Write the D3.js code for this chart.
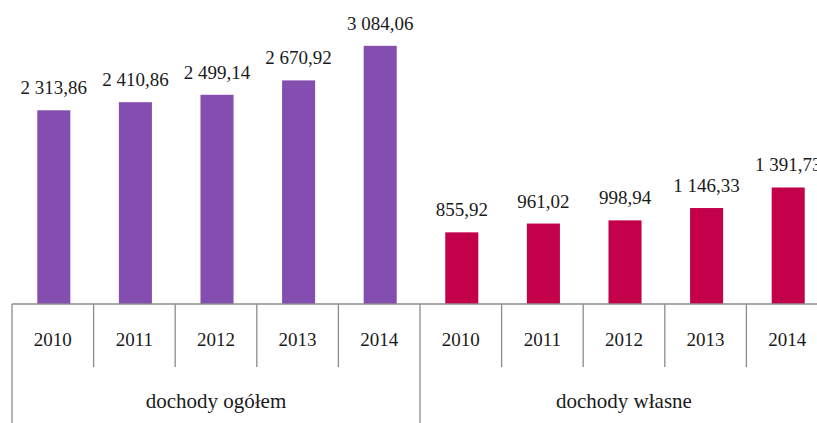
<!DOCTYPE html>
<html><head><meta charset="utf-8">
<script src="https://cdn.jsdelivr.net/npm/d3@7"></script>
<style>
html,body{margin:0;padding:0;background:#fff;overflow:hidden}
svg text{font-family:"Liberation Serif","DejaVu Serif",serif;font-size:19px;fill:#1a1a1a}
svg text.grp{font-size:21px}
</style>
</head><body>
<svg id="c" width="817" height="423"></svg>
<script>
const years = ["2010","2011","2012","2013","2014"];
const groups = ["dochody ogółem","dochody własne"];
const ogolem = [2313.86, 2410.86, 2499.14, 2670.92, 3084.06];
const wlasne = [855.92, 961.02, 998.94, 1146.33, 1391.73];
const colors = ["#834EB0", "#C3004A"];

const data = [];
groups.forEach((g, gi) => {
  const vals = gi === 0 ? ogolem : wlasne;
  years.forEach((y, yi) => data.push({key: gi + "-" + y, group: g, gi, year: y, value: vals[yi]}));
});

const svg = d3.select("#c");
const axisY = 304;
const x = d3.scaleBand().domain(data.map(d => d.key)).range([12, 828]).padding(0);
const y = d3.scaleLinear().domain([0, 3500]).range([axisY, 11]);
const bw = x.bandwidth() * 0.405;
const fmt = v => d3.format(",.2f")(v).replace(/,/g, " ").replace(".", ",");

svg.selectAll("rect.bar").data(data).join("rect")
  .attr("class", "bar")
  .attr("x", d => x(d.key) + x.bandwidth() / 2 - bw / 2 + 1)
  .attr("width", bw)
  .attr("y", d => y(d.value))
  .attr("height", d => axisY - y(d.value))
  .attr("fill", d => colors[d.gi]);

svg.selectAll("text.val").data(data).join("text")
  .attr("class", "val")
  .attr("x", d => x(d.key) + x.bandwidth() / 2 + 1)
  .attr("y", d => y(d.value) - 16)
  .attr("text-anchor", "middle")
  .text(d => fmt(d.value));

const gAxis = svg.append("g").attr("stroke", "#8c8c8c").attr("stroke-width", 1.3);
gAxis.append("line").attr("x1", 12).attr("x2", 828).attr("y1", axisY).attr("y2", axisY);
const bounds = data.map(d => x(d.key)).concat([828]);
bounds.forEach((b, i) => {
  const groupEdge = i % 5 === 0;
  gAxis.append("line").attr("x1", b).attr("x2", b).attr("y1", axisY)
    .attr("y2", groupEdge ? 423 : 367);
});

svg.selectAll("text.yr").data(data).join("text")
  .attr("class", "yr")
  .attr("x", d => x(d.key) + x.bandwidth() / 2)
  .attr("y", 346)
  .attr("text-anchor", "middle")
  .text(d => d.year);

svg.selectAll("text.grp").data(groups).join("text")
  .attr("class", "grp")
  .attr("x", (g, gi) => (x(gi + "-2010") + x(gi + "-2014") + x.bandwidth()) / 2)
  .attr("y", 408)
  .attr("text-anchor", "middle")
  .text(g => g);
</script>
</body></html>
